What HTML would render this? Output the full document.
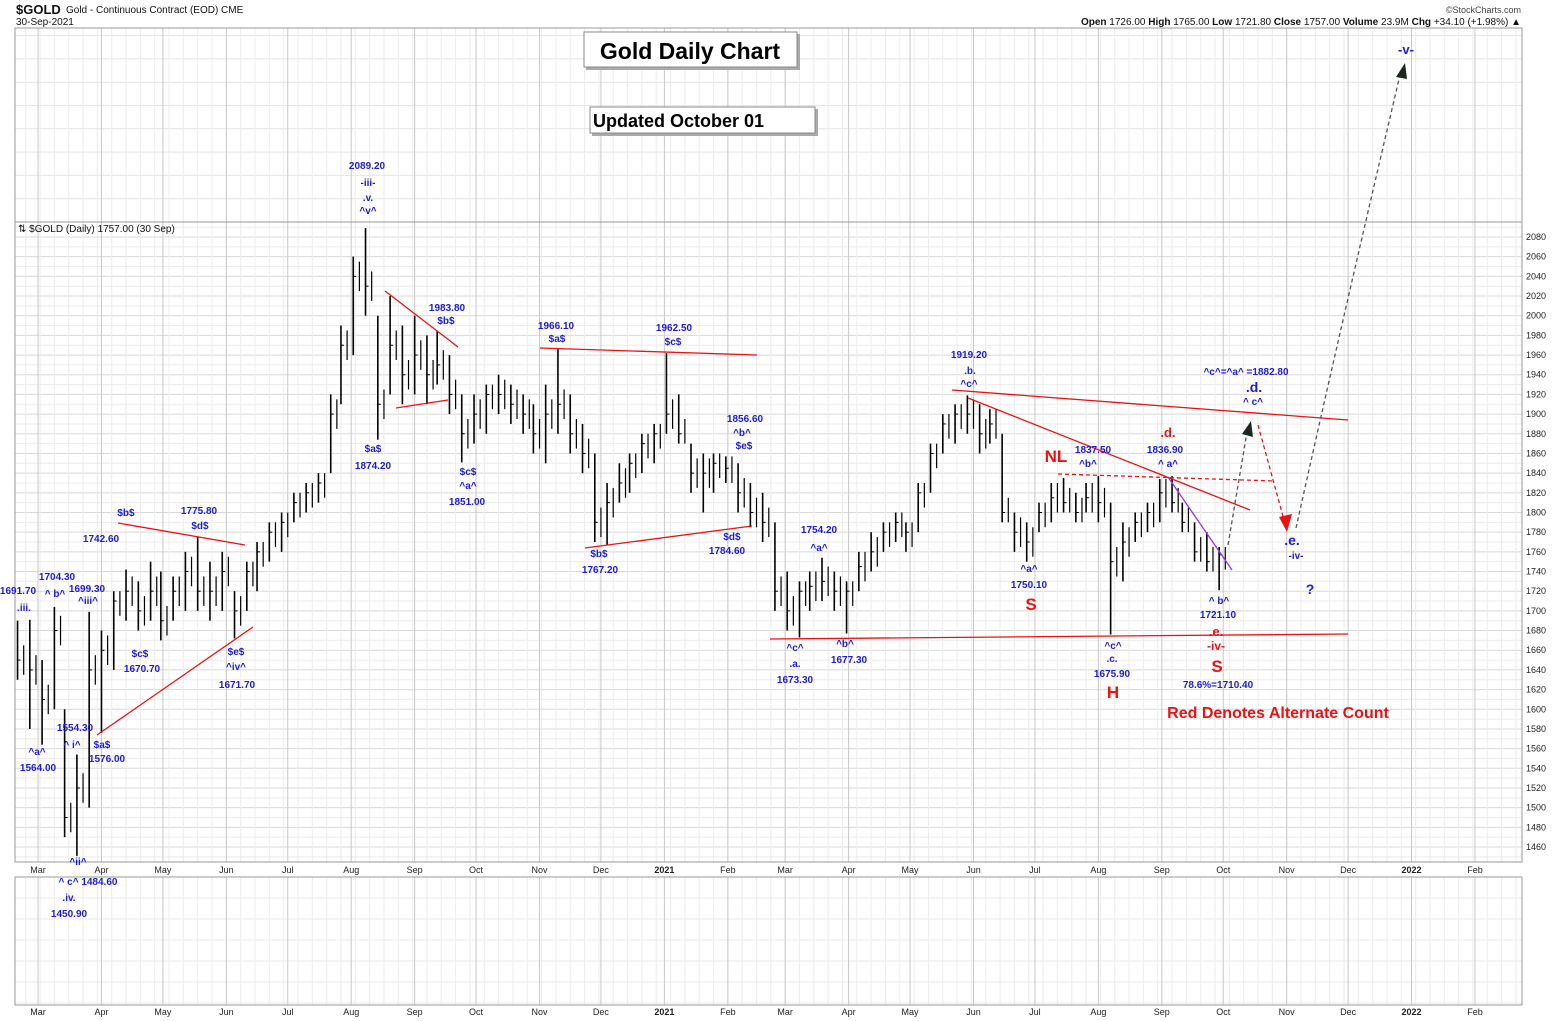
<!DOCTYPE html>
<html><head><meta charset="utf-8"><style>
html,body{margin:0;padding:0;background:#fff;}
svg{display:block;font-family:"Liberation Sans",sans-serif;}
</style></head><body>
<svg id="chart" width="1565" height="1021" xmlns="http://www.w3.org/2000/svg">
<rect x="0" y="0" width="1565" height="1021" fill="#fff"/>
<g id="grid"></g>
<g id="bars"></g>
<g id="axes"></g>
<g id="annot"></g>
</svg>
<script>
// ---- data ----
const barHigh = [1690,1691,1650,1704,1600,1554,1699,1680,1720,1742,1730,1750,1740,1735,1760,1775,1750,1760,1720,1750,1770,1790,1800,1820,1830,1840,1920,1990,2060,2089,2000,2020,1990,2000,1980,1984,1960,1920,1920,1930,1940,1930,1920,1910,1930,1966,1920,1890,1860,1830,1850,1860,1880,1890,1962,1920,1870,1860,1860,1857,1850,1830,1820,1790,1740,1730,1740,1754,1740,1730,1760,1780,1790,1800,1790,1830,1870,1900,1910,1919,1910,1905,1880,1800,1790,1810,1830,1835,1820,1830,1837,1810,1790,1800,1810,1834,1837,1810,1790,1780,1765];
const barLow = [1630,1580,1564,1600,1470,1451,1500,1576,1640,1690,1680,1690,1670,1690,1700,1700,1690,1700,1672,1700,1720,1750,1760,1790,1800,1810,1840,1910,1960,2000,1874,1920,1910,1920,1910,1930,1900,1851,1870,1880,1900,1890,1880,1860,1850,1880,1860,1840,1770,1767,1810,1820,1840,1850,1880,1870,1820,1800,1820,1830,1800,1785,1770,1700,1680,1673,1700,1710,1700,1677,1720,1740,1760,1770,1760,1780,1820,1860,1870,1880,1860,1870,1790,1760,1750,1780,1790,1800,1790,1800,1790,1676,1730,1770,1780,1790,1800,1780,1750,1740,1721];
const barClose = [1650,1640,1610,1680,1490,1520,1640,1660,1710,1720,1700,1720,1690,1720,1740,1720,1720,1740,1700,1740,1760,1780,1790,1810,1820,1830,1900,1970,2040,2030,1910,1970,1940,1960,1940,1950,1920,1880,1900,1920,1920,1910,1900,1880,1900,1910,1880,1860,1790,1810,1830,1850,1870,1880,1900,1880,1840,1840,1850,1845,1820,1800,1790,1720,1700,1720,1725,1730,1720,1720,1745,1760,1780,1790,1780,1820,1860,1890,1900,1900,1880,1890,1800,1780,1770,1800,1815,1810,1800,1815,1810,1750,1770,1790,1800,1820,1810,1790,1760,1750,1757];
const priceTicks = [1460,1480,1500,1520,1540,1560,1580,1600,1620,1640,1660,1680,1700,1720,1740,1760,1780,1800,1820,1840,1860,1880,1900,1920,1940,1960,1980,2000,2020,2040,2060,2080];
const monthLabels = ["Mar","Apr","May","Jun","Jul","Aug","Sep","Oct","Nov","Dec","2021","Feb","Mar","Apr","May","Jun","Jul","Aug","Sep","Oct","Nov","Dec","2022","Feb"];

// ---- scales ----
const base = Date.UTC(2020,1,17);
function dayOf(y,m,d){return (Date.UTC(y,m,d)-base)/86400000;}
function xd(day){return 11.4 + day*2.047;}
function yp(p){return 237 + (2080-p)*0.9839;}
const NS="http://www.w3.org/2000/svg";
function el(tag,attrs,parent){const e=document.createElementNS(NS,tag);for(const k in attrs)e.setAttribute(k,attrs[k]);parent.appendChild(e);return e;}

const L=15,R=1522,T1=28,B1=862,T2=877,B2=1005;
const grid=document.getElementById('grid');
for(let p=1450;p<=2090;p+=10){const y=yp(p);if(y<222||y>B1)continue;
 const g=el('line',{x1:L,x2:R,y1:y,y2:y,stroke:p%20===0?'#d8d8d8':'#ececec','stroke-width':1},grid);
 }
for(let y=222-23.3;y>T1;y-=23.3){const g=el('line',{x1:L,x2:R,y1:y,y2:y,stroke:'#e4e4e4'},grid);
 }
for(let y=T2+21;y<B2;y+=21){const g=el('line',{x1:L,x2:R,y1:y,y2:y,stroke:'#e8e8e8'},grid);
 }
for(let d=dayOf(2020,1,17);xd(d)<R;d+=7){const x=xd(d);if(x<L)continue;
 const g=el('line',{x1:x,x2:x,y1:T1,y2:B1,stroke:'#ececec'},grid);
 
 const g2=el('line',{x1:x,x2:x,y1:T2,y2:B2,stroke:'#ececec'},grid);
 }
const axes=document.getElementById('axes');
monthLabels.forEach((lab,i)=>{
 const m=2+i, yr=2020+Math.floor(m/12), mo=m%12;
 const x=xd(dayOf(yr,mo,1));
 const g=el('line',{x1:x,x2:x,y1:T1,y2:B1,stroke:'#c8c8c8'},grid);
 
 const g2=el('line',{x1:x,x2:x,y1:T2,y2:B2,stroke:'#c8c8c8'},grid);
 
 [873,1015].forEach(ty=>{const t=el('text',{x:x,y:ty,'font-size':9,'text-anchor':'middle',fill:'#222','font-weight':lab.length===4?'bold':'normal'},axes);
  t.textContent=lab;});
});
[[L,T1,R-L,B1-T1],[L,T2,R-L,B2-T2]].forEach(r=>{const f=el('rect',{x:r[0],y:r[1],width:r[2],height:r[3],fill:'none',stroke:'#999'},axes);
 });
const sep=el('line',{x1:L,x2:R,y1:222,y2:222,stroke:'#999'},axes);

priceTicks.forEach(p=>{const t=el('text',{x:1526,y:yp(p)+3,'font-size':9,fill:'#222'},axes);
 t.textContent=p;});

const bars=document.getElementById('bars');
barHigh.forEach((h,i)=>{
 const d=3+Math.round(i*5.87), x=xd(d);
 const g=el('g',{},bars);
 
 el('line',{x1:x,x2:x,y1:yp(h),y2:yp(barLow[i]),stroke:'#000','stroke-width':1.6},g);
 el('line',{x1:x,x2:x+3,y1:yp(barClose[i]),y2:yp(barClose[i]),stroke:'#000','stroke-width':1},g);
 const x2=xd(d+3);
 el('line',{x1:x2,x2:x2,y1:yp(Math.min(h,barClose[i]+15)),y2:yp(Math.max(barLow[i],barClose[i]-15)),stroke:'#000','stroke-width':1.2},g);
});

const an=document.getElementById('annot');
function line(x1,y1,x2,y2,c,name,dash,w){const l=el('line',{x1,y1,x2,y2,stroke:c,'stroke-width':w||1.3},an);if(dash)l.setAttribute('stroke-dasharray',dash);
 return l;}
function txt(x,y,s,c,size,name,anchor){const t=el('text',{x,y,fill:c,'font-size':size||10,'font-weight':'bold','text-anchor':anchor||'middle'},an);t.textContent=s;
 return t;}
const RED='#ee1111',BL='#1a1ae0';
line(97,735,253,627,RED,'trendline');line(118,523,245,545,RED,'trendline');
line(385,291,458,347,RED,'trendline');line(396,408,448,400,RED,'trendline');
line(540,348,757,355,RED,'trendline');line(585,548,752,526,RED,'trendline');
line(770,639,1348,634,RED,'neckline-support');line(952,390,1348,420,RED,'triangle-top');
line(968,398,1250,510,RED,'trendline');
line(1058,474,1275,481,RED,'neckline-dashed','4,3');
line(1258,425,1284,520,RED,'red-arrow-path','4,3');
const ra=el('polygon',{points:'1279,517 1292,514 1287,532',fill:RED},an);
line(1168,477,1232,570,'#9933ee','purple-trendline');
line(1228,545,1247,432,'#555','black-arrow-path','4,3');
const ba=el('polygon',{points:'1242,434 1253,437 1251,421',fill:'#1a2a1a'},an);
const bp=el('path',{d:'M1296,528 Q1340,330 1400,75',fill:'none',stroke:'#555','stroke-width':1.3,'stroke-dasharray':'4,3'},an);
const ba2=el('polygon',{points:'1396,77 1407,79 1405,63',fill:'#1a2a1a'},an);

const blue=[[18,594,"1691.70"],[24,611,".iii."],[57,580,"1704.30"],[55,597,"^ b^"],[87,592,"1699.30"],[88,604,"^iii^"],[37,755,"^a^"],[38,771,"1564.00"],[75,731,"1554.30"],[72,748,"^ i^"],[102,748,"$a$"],[107,762,"1576.00"],[78,865,"^ii^"],[88,885,"^ c^ 1484.60"],[69,901,".iv."],[69,917,"1450.90"],[101,542,"1742.60"],[126,516,"$b$"],[199,514,"1775.80"],[200,529,"$d$"],[140,657,"$c$"],[142,672,"1670.70"],[236,655,"$e$"],[236,670,"^iv^"],[237,688,"1671.70"],[367,169,"2089.20"],[368,186,"-iii-"],[368,201,".v."],[368,214,"^v^"],[447,311,"1983.80"],[446,324,"$b$"],[373,452,"$a$"],[373,469,"1874.20"],[468,475,"$c$"],[468,489,"^a^"],[467,505,"1851.00"],[556,329,"1966.10"],[557,342,"$a$"],[674,331,"1962.50"],[673,345,"$c$"],[745,422,"1856.60"],[742,436,"^b^"],[744,449,"$e$"],[732,540,"$d$"],[727,554,"1784.60"],[599,557,"$b$"],[600,573,"1767.20"],[819,533,"1754.20"],[819,551,"^a^"],[795,651,"^c^"],[795,667,".a."],[795,683,"1673.30"],[845,647,"^b^"],[849,663,"1677.30"],[969,358,"1919.20"],[970,374,".b."],[969,387,"^c^"],[1093,453,"1837.50"],[1088,467,"^b^"],[1029,572,"^a^"],[1029,588,"1750.10"],[1113,649,"^c^"],[1112,662,".c."],[1112,677,"1675.90"],[1165,453,"1836.90"],[1168,467,"^ a^"],[1246,375,"^c^=^a^ =1882.80"],[1253,405,"^ c^"],[1296,559,"-iv-"],[1219,604,"^ b^"],[1218,618,"1721.10"],[1218,688,"78.6%=1710.40"]];
blue.forEach(b=>txt(b[0],b[1],b[2],BL,10,'wave-label'));
txt(1254,392,".d.",BL,14,'wave-label-d');txt(1292,545,".e.",BL,14,'wave-label-e');
txt(1310,594,"?",BL,14,'question-mark');txt(1406,54,"-v-",BL,13,'wave-label-v');
txt(1168,437,".d.",RED,13,'alt-label');txt(1056,462,"NL",RED,17,'neckline-label');
txt(1031,610,"S",RED,17,'left-shoulder-label');txt(1216,636,".e.",RED,13,'alt-label');
txt(1216,650,"-iv-",RED,12,'alt-label');txt(1217,672,"S",RED,17,'right-shoulder-label');
txt(1113,698,"H",RED,17,'head-label');
txt(1278,718,"Red Denotes Alternate Count",RED,16,'alt-count-note');
</script>
<svg style="position:absolute;left:0;top:0" width="1565" height="240" xmlns="http://www.w3.org/2000/svg">
<text x="16" y="14" font-family="Liberation Sans,sans-serif" font-size="13" font-weight="bold" fill="#111">$GOLD</text>
<text x="66" y="13" font-family="Liberation Sans,sans-serif" font-size="10" fill="#111">Gold - Continuous Contract (EOD) CME</text>
<text x="16" y="25" font-family="Liberation Sans,sans-serif" font-size="10" fill="#111">30-Sep-2021</text>
<text x="1521" y="13" text-anchor="end" font-family="Liberation Sans,sans-serif" font-size="9" fill="#444">©StockCharts.com</text>
<text x="1521" y="25" text-anchor="end" font-family="Liberation Sans,sans-serif" font-size="10" fill="#111"><tspan font-weight="bold">Open</tspan> 1726.00 <tspan font-weight="bold">High</tspan> 1765.00 <tspan font-weight="bold">Low</tspan> 1721.80 <tspan font-weight="bold">Close</tspan> 1757.00 <tspan font-weight="bold">Volume</tspan> 23.9M <tspan font-weight="bold">Chg</tspan> +34.10 (+1.98%) ▲</text>
<text x="18" y="232" font-family="Liberation Sans,sans-serif" font-size="10" fill="#111">⇅ $GOLD (Daily) 1757.00 (30 Sep)</text>
<rect x="586" y="34" width="214" height="36" fill="#aaa"/>
<rect x="584" y="32" width="213" height="35" fill="#fff" stroke="#888"/>
<text x="690" y="59" text-anchor="middle" font-family="Liberation Sans,sans-serif" font-size="23" font-weight="bold" fill="#000">Gold Daily Chart</text>
<rect x="592" y="109" width="226" height="27" fill="#aaa"/>
<rect x="590" y="107" width="225" height="26" fill="#fff" stroke="#888"/>
<text x="593" y="127" font-family="Liberation Sans,sans-serif" font-size="18" font-weight="bold" fill="#000">Updated October 01</text>
</svg>
</body></html>
